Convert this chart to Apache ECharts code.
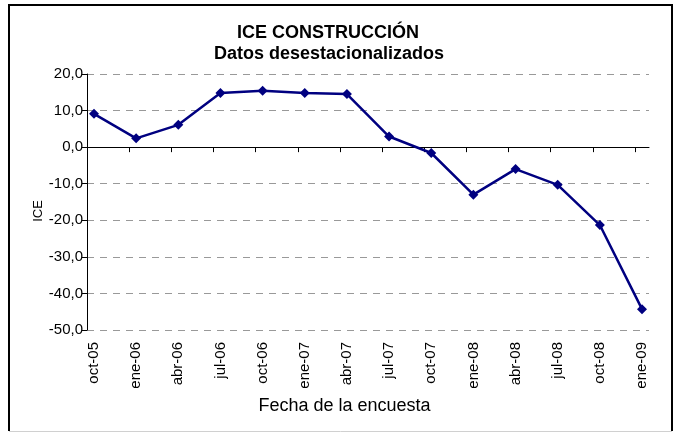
<!DOCTYPE html>
<html lang="es">
<head>
  <meta charset="UTF-8">
  <script src="https://cdn.jsdelivr.net/npm/echarts@6/dist/echarts.min.js"></script>
  <title>ICE construcción</title>
  <style>
    html, body { margin: 0; height: 100%; background: #fff; }
    #chart { width: 674px; height: 433px; }
  </style>
</head>
<body>
  <div id="chart"></div>
  <script>
    // fechas de la encuesta (trimestral)
    var fechas = ['oct-05', 'ene-06', 'abr-06', 'jul-06', 'oct-06', 'ene-07', 'abr-07',
      'jul-07', 'oct-07', 'ene-08', 'abr-08', 'jul-08', 'oct-08', 'ene-09'];
    // ICE construcción, datos desestacionalizados
    var ice = [9.1, 2.4, 6.1, 14.8, 15.4, 14.8, 14.5, 2.9, -1.6, -13.0, -6.0, -10.3, -21.3, -44.3];

    var font = "'Liberation Sans', Arial, sans-serif";
    var pad = 0.166; // Excel deja un pequeño margen a cada lado

    var puntos = ice.map(function (v, i) { return [i, v]; });
    var posLabels = fechas.map(function (f, i) { return i; });
    var posTicks = fechas.slice(1).map(function (f, i) { return i + 1 - pad; });

    var chart = echarts.init(document.getElementById('chart'));
    var option = {
      backgroundColor: '#fff',
      animation: false,
      title: [{
        text: 'ICE CONSTRUCCIÓN',
        left: 237, top: 24, padding: 0,
        textStyle: { fontFamily: font, fontSize: 18, fontWeight: 'bold', color: '#000' }
      }, {
        text: 'Datos desestacionalizados',
        left: 214, top: 45, padding: 0,
        textStyle: { fontFamily: font, fontSize: 18, fontWeight: 'bold', color: '#000' }
      }],
      grid: { left: 87, right: 25, top: 74, bottom: 103 },
      xAxis: [{
        type: 'value',
        min: -pad, max: fechas.length - 1 + pad,
        position: 'bottom',
        name: 'Fecha de la encuesta',
        nameLocation: 'middle',
        nameGap: 67,
        nameMoveOverlap: false,
        nameTextStyle: { fontFamily: font, fontSize: 18, color: '#000', padding: [0, 47, 0, 0] },
        axisLine: { show: false, onZero: false },
        axisTick: { show: false },
        splitLine: { show: false },
        axisLabel: {
          customValues: posLabels,
          rotate: 90,
          margin: 12,
          fontFamily: font, fontSize: 15, color: '#000',
          formatter: function (v) { return fechas[Math.round(v)]; }
        }
      }, {
        type: 'value',
        min: -pad, max: fechas.length - 1 + pad,
        position: 'top',
        axisLine: { show: true, onZero: true, lineStyle: { color: '#000', width: 1 } },
        axisTick: { show: true, inside: true, length: 5, customValues: posTicks, lineStyle: { color: '#000' } },
        axisLabel: { show: false },
        splitLine: { show: false }
      }],
      yAxis: {
        type: 'value',
        min: -50, max: 20, interval: 10,
        name: 'ICE',
        nameLocation: 'middle',
        nameRotate: 90,
        nameGap: 42,
        nameMoveOverlap: false,
        nameTextStyle: { fontFamily: font, fontSize: 13, color: '#000', padding: [0, 18, 0, 0] },
        axisLine: { show: true, onZero: false, lineStyle: { color: '#000', width: 1 } },
        axisTick: { show: true, length: 5, lineStyle: { color: '#000' } },
        axisLabel: {
          margin: 4,
          fontFamily: font, fontSize: 15, color: '#000',
          formatter: function (v) { return v.toFixed(1).replace('.', ','); }
        },
        splitLine: { show: true, lineStyle: { color: '#999', type: [7, 6], width: 1 } }
      },
      series: [{
        type: 'line',
        xAxisIndex: 0,
        data: puntos,
        symbol: 'diamond',
        symbolSize: 10,
        lineStyle: { color: '#000080', width: 2.5 },
        itemStyle: { color: '#000080' },
        z: 5
      }],
      graphic: [{
        type: 'polyline',
        shape: { points: [[9, 431], [9, 5], [672, 5], [672, 431]] },
        style: { stroke: '#000', lineWidth: 2, fill: null },
        silent: true
      }, {
        type: 'line',
        shape: { x1: 9, y1: 431.5, x2: 672, y2: 431.5 },
        style: { stroke: '#d0d0d0', lineWidth: 1 },
        silent: true
      }]
    };
    chart.setOption(option);
  </script>
</body>
</html>
